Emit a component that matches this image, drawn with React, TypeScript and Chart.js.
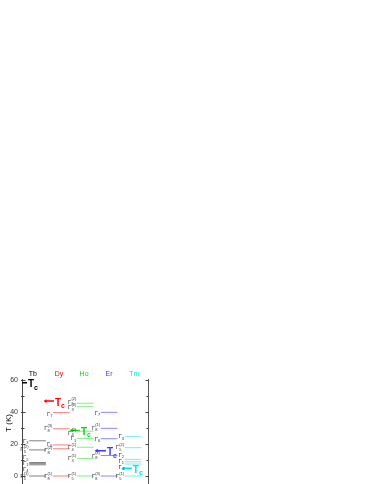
import React, { useEffect, useRef } from "react";
import { Chart, registerables } from "chart.js";

Chart.register(...registerables);

// ---------- data ----------
const ions = ["Tb", "Dy", "Ho", "Er", "Tm"];
const ionTextColors = ["#000000", "#ff0000", "#00e000", "#3a3aff", "#00e8e8"];
const levelColors = ["#808080", "#ff7a7a", "#80f080", "#8a8aff", "#70f0f0"];

// crystal-field levels (K) for each ion
const tbLevels = [0, 7.0, 7.7, 8.4, 16.3, 22.0];
const dyLevels = [0, 17.0, 19.4, 29.5, 39.6];
const hoLevels = [0, 11.0, 18.0, 23.5, 28.0, 43.3, 45.5];
const erLevels = [0, 12.8, 23.3, 29.8, 39.8];
const tmLevels = [0, 7.5, 8.9, 10.4, 17.7, 24.6];

// level labels: Γ subscript and superscript
const tbSub = ["5", "4", "1", "2", "5", "3"];
const tbSup = ["(1)", "", "", "", "(2)", ""];
const dySub = ["8", "8", "6", "8", "7"];
const dySup = ["(1)", "(2)", "", "(3)", ""];
const hoSub = ["5", "3", "4", "1", "4", "3", "5"];
const hoSup = ["(1)", "(1)", "(1)", "", "(2)", "(2)", "(2)"];
const erSub = ["8", "8", "6", "8", "7"];
const erSup = ["(3)", "(2)", "", "(1)", ""];
const tmSub = ["5", "4", "1", "2", "5", "3"];
const tmSup = ["(1)", "", "", "", "(2)", ""];

// where each label sits (K), spread apart where levels crowd
const tbLabelT = [0, 4.5, 8.2, 11.8, 16.6, 22.0];
const dyLabelT = [0, 16.2, 20.2, 29.8, 39.0];
const hoLabelT = [0, 11.0, 18.0, 23.5, 27.0, 43.0, 46.3];
const erLabelT = [0, 12.6, 23.3, 30.2, 39.4];
const tmLabelT = [0, 5.8, 9.6, 13.2, 18.0, 24.8];

// ordering temperatures (K)
const tcValues = [58.3, 46.8, 28.5, 15.8, 4.8];

// axis ticks
const yMajorTicks = [0, 20, 40, 60];
const yMinorTicks = [10, 30, 50];

const allLevels = [tbLevels, dyLevels, hoLevels, erLevels, tmLevels];
const allSub = [tbSub, dySub, hoSub, erSub, tmSub];
const allSup = [tbSup, dySup, hoSup, erSup, tmSup];
const allLabelT = [tbLabelT, dyLabelT, hoLabelT, erLabelT, tmLabelT];

// ---------- layout ----------
const W = 374;
const H = 500;
const HALF = 0.35; // half length of level line (column units)
const arrowFrom = [0.22, 1.34, 2.43, 3.48, 4.62];
const arrowTo = [0.56, 1.69, 2.78, 3.87, 4.95];
const titleX = [0.8, 1.9, 2.95, 4.0, 5.05];
const FONT = "'Liberation Sans', Arial, sans-serif";

function drawGamma(ctx: CanvasRenderingContext2D, xRight: number, y: number, sub: string, sup: string) {
  ctx.save();
  ctx.fillStyle = "#333";
  ctx.textBaseline = "alphabetic";
  ctx.textAlign = "left";
  ctx.font = `6px ${FONT}`;
  const wg = ctx.measureText("Γ").width;
  ctx.font = `4px ${FONT}`;
  const ws = ctx.measureText(sub).width;
  const wp = ctx.measureText(sup).width;
  const total = wg + Math.max(ws, wp) + 0.3;
  const x0 = xRight - total;
  ctx.font = `6px ${FONT}`;
  ctx.fillText("Γ", x0, y + 2);
  ctx.font = `4px ${FONT}`;
  ctx.fillText(sub, x0 + wg, y + 3.5);
  if (sup) ctx.fillText(sup, x0 + wg, y - 1.5);
  ctx.restore();
}

const overlay = {
  id: "overlay",
  afterDatasetsDraw(chart: any) {
    const ctx: CanvasRenderingContext2D = chart.ctx;
    const xs = chart.scales.x;
    const ys = chart.scales.y;
    const area = chart.chartArea;
    ctx.save();
    // inward ticks on both axes
    ctx.strokeStyle = "#444";
    ctx.lineWidth = 1;
    const drawTick = (v: number, len: number) => {
      const py = Math.round(ys.getPixelForValue(v)) + 0.5;
      const lx = Math.round(area.left) + 0.5;
      const rx = Math.round(area.right) - 0.5;
      ctx.beginPath();
      ctx.moveTo(lx - 1.5, py);
      ctx.lineTo(lx + len, py);
      ctx.moveTo(rx - len, py);
      ctx.lineTo(rx, py);
      ctx.stroke();
    };
    yMajorTicks.forEach((v) => drawTick(v, 3));
    yMinorTicks.forEach((v) => drawTick(v, 2));

    // ion titles
    ctx.font = `7px ${FONT}`;
    ctx.textAlign = "center";
    ctx.textBaseline = "middle";
    ions.forEach((name, i) => {
      ctx.fillStyle = ionTextColors[i];
      ctx.fillText(name, xs.getPixelForValue(titleX[i]), 374.5);
    });

    // level labels
    allLevels.forEach((lv, i) => {
      lv.forEach((_, j) => {
        const xr = xs.getPixelForValue(i + 1 - HALF) - 0.3;
        const py = ys.getPixelForValue(allLabelT[i][j]);
        drawGamma(ctx, xr, py, allSub[i][j], allSup[i][j]);
      });
    });

    // Tc labels
    tcValues.forEach((tc, i) => {
      const x0 = xs.getPixelForValue(arrowTo[i]) + 1;
      const py = ys.getPixelForValue(tc);
      ctx.fillStyle = ionTextColors[i];
      ctx.textAlign = "left";
      ctx.textBaseline = "alphabetic";
      ctx.font = `bold 10px ${FONT}`;
      ctx.fillText("T", x0, py + 4.5);
      const wt = ctx.measureText("T").width;
      ctx.font = `bold 7px ${FONT}`;
      ctx.fillText("c", x0 + wt, py + 7);
    });

    // axis title
    ctx.save();
    ctx.translate(9, 423);
    ctx.rotate(-Math.PI / 2);
    ctx.fillStyle = "#000";
    ctx.font = `8px ${FONT}`;
    ctx.textAlign = "center";
    ctx.textBaseline = "middle";
    ctx.fillText("T (K)", 0, 0);
    ctx.restore();
    ctx.restore();
  },
};

export default function App() {
  const ref = useRef<HTMLCanvasElement>(null);
  useEffect(() => {
    const datasets: any[] = [];
    allLevels.forEach((lv, i) => {
      lv.forEach((t) => {
        datasets.push({
          data: [
            { x: i + 1 - HALF, y: t },
            { x: i + 1 + HALF, y: t },
          ],
          borderColor: levelColors[i],
          borderWidth: 1,
          pointRadius: 0,
          showLine: true,
        });
      });
    });
    tcValues.forEach((tc, i) => {
      datasets.push({
        data: [
          { x: arrowFrom[i], y: tc },
          { x: arrowTo[i], y: tc },
        ],
        borderColor: ionTextColors[i],
        backgroundColor: ionTextColors[i],
        borderWidth: 1.5,
        pointRadius: [2.2, 0],
        pointStyle: "triangle",
        pointRotation: -90,
        pointBorderWidth: 0,
        showLine: true,
      });
    });
    const chart = new Chart(ref.current!, {
      type: "scatter",
      data: { datasets },
      options: {
        animation: false,
        responsive: false,
        devicePixelRatio: 1,
        layout: { padding: { top: 379.2, bottom: H - 488.8, left: 0, right: 0 } },
        plugins: { legend: { display: false }, tooltip: { enabled: false } },
        scales: {
          x: { type: "linear", min: 0.35, max: 5.65, display: false },
          y: {
            type: "linear",
            position: "left",
            min: -8,
            max: 60.5,
            afterBuildTicks: (s: any) => {
              s.ticks = yMajorTicks.map((v) => ({ value: v }));
            },
            afterFit: (s: any) => {
              s.width = 22;
            },
            ticks: { font: { size: 7, family: FONT }, color: "#333", padding: 4 },
            grid: { drawOnChartArea: false, drawTicks: false },
            border: { display: true, color: "#444", width: 1 },
          },
          y2: {
            type: "linear",
            position: "right",
            min: -8,
            max: 60.5,
            ticks: { display: false },
            afterFit: (s: any) => {
              s.width = W - 148.5;
            },
            grid: { drawOnChartArea: false, drawTicks: false },
            border: { display: true, color: "#555", width: 1 },
          },
        },
      },
      plugins: [overlay],
    });
    return () => chart.destroy();
  }, []);
  return (
    <canvas
      ref={ref}
      width={W}
      height={H}
      style={{ position: "fixed", left: 0, top: 0, width: W, height: H }}
    />
  );
}
